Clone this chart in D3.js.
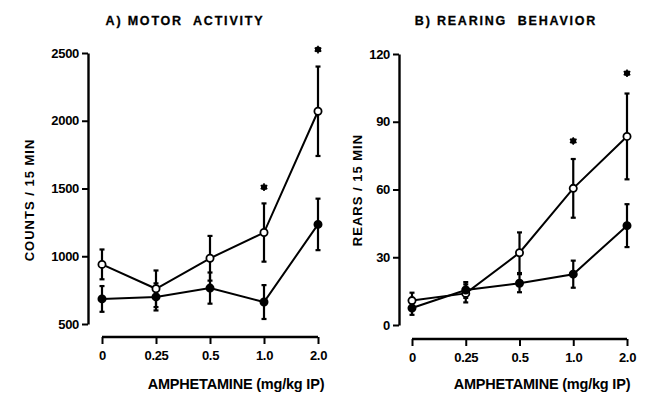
<!DOCTYPE html>
<html>
<head>
<meta charset="utf-8">
<script src="https://cdn.jsdelivr.net/npm/d3@7"></script>
<style>
  body { margin: 0; background: #fff; }
  svg text { font-family: "Liberation Sans", Arial, sans-serif; font-weight: bold; fill: #000; }
</style>
</head>
<body>
<svg id="chart" width="646" height="394"></svg>
<script>
// dose categories (x axis)
const doses = ["0", "0.25", "0.5", "1.0", "2.0"];

// A) motor activity, counts / 15 min
const motorOpen = [940, 760, 985, 1175, 2070];
const motorOpenErr = [110, 135, 165, 215, 330];
const motorFilled = [685, 700, 765, 662, 1235];
const motorFilledErr = [95, 100, 115, 125, 190];
const motorStars = [{dose: "1.0", v: 1510}, {dose: "2.0", v: 2525}];
const motorTicks = [500, 1000, 1500, 2000, 2500];

// B) rearing behavior, rears / 15 min
const rearOpen = [10.8, 14, 32, 60.5, 83.5];
const rearOpenErr = [3.5, 4, 9, 13, 19];
const rearFilled = [7.5, 15.5, 18.5, 22.5, 44];
const rearFilledErr = [3, 3.5, 4, 6, 9.5];
const rearStars = [{dose: "1.0", v: 81.5}, {dose: "2.0", v: 111.5}];
const rearTicks = [0, 30, 60, 90, 120];

const svg = d3.select("#chart");

function drawPanel(opt) {
  const x = d3.scalePoint().domain(doses).range(opt.xRange);
  const y = d3.scaleLinear().domain(opt.yDomain).range(opt.yRange);
  const g = svg.append("g");

  // y axis
  const yAx = g.append("g")
    .attr("transform", "translate(" + opt.yAxisX + ",0)")
    .call(d3.axisLeft(y).tickValues(opt.ticks).tickFormat(d3.format("d"))
      .tickSize(6).tickSizeOuter(0).tickPadding(3));
  yAx.select(".domain").attr("stroke-width", 2.4);
  yAx.selectAll(".tick line").attr("stroke-width", 2);
  yAx.selectAll("text").attr("font-size", 13).attr("letter-spacing", -0.3);

  // x axis, detached below the plot
  const xAx = g.append("g")
    .attr("transform", "translate(0," + opt.xAxisY + ")")
    .call(d3.axisBottom(x).tickSize(7).tickSizeOuter(0).tickPadding(7));
  xAx.select(".domain").attr("stroke-width", 2.4).attr("d", "M" + opt.xRange[0] + ",0H" + opt.xRange[1]);
  xAx.selectAll(".tick line").attr("stroke-width", 2);
  xAx.selectAll("text").attr("font-size", 13).attr("letter-spacing", -0.3);

  const series = [
    {vals: opt.open, err: opt.openErr, fill: "#fff"},
    {vals: opt.filled, err: opt.filledErr, fill: "#000"}
  ];

  series.forEach(s => {
    const pts = doses.map((d, i) => ({d: d, v: s.vals[i], e: s.err[i]}));
    const eb = g.append("g").selectAll("g").data(pts).enter().append("g")
      .attr("stroke", "#000").attr("stroke-width", 2.2);
    eb.append("line")
      .attr("x1", p => x(p.d)).attr("x2", p => x(p.d))
      .attr("y1", p => y(p.v - p.e)).attr("y2", p => y(p.v + p.e));
    eb.append("line")
      .attr("x1", p => x(p.d) - 2.5).attr("x2", p => x(p.d) + 2.5)
      .attr("y1", p => y(p.v + p.e)).attr("y2", p => y(p.v + p.e));
    eb.append("line")
      .attr("x1", p => x(p.d) - 2.5).attr("x2", p => x(p.d) + 2.5)
      .attr("y1", p => y(p.v - p.e)).attr("y2", p => y(p.v - p.e));
    s.pts = pts;
  });

  series.forEach(s => {
    g.append("path").datum(s.pts)
      .attr("fill", "none").attr("stroke", "#000").attr("stroke-width", 2)
      .attr("d", d3.line().x(p => x(p.d)).y(p => y(p.v)));
  });

  series.forEach(s => {
    g.append("g").selectAll("circle").data(s.pts).enter().append("circle")
      .attr("cx", p => x(p.d)).attr("cy", p => y(p.v))
      .attr("r", 3.6)
      .attr("fill", s.fill).attr("stroke", "#000").attr("stroke-width", 1.8);
  });

  // significance marks: a filled blob with short spikes
  const st = g.append("g").selectAll("g").data(opt.stars).enter().append("g")
    .attr("transform", p => "translate(" + x(p.dose) + "," + y(p.v) + ")");
  st.append("circle").attr("r", 3).attr("fill", "#000");
  st.append("path")
    .attr("d", d3.symbol().type(d3.symbolAsterisk).size(40))
    .attr("fill", "none").attr("stroke", "#000").attr("stroke-width", 1.6);

  // titles
  g.append("text")
    .attr("x", opt.titleX).attr("y", 25)
    .attr("text-anchor", "middle").attr("font-size", 12.5)
    .attr("letter-spacing", 1.8).attr("xml:space", "preserve")
    .attr("stroke", "#000").attr("stroke-width", 0.3)
    .text(opt.title);

  g.append("text")
    .attr("transform", "translate(" + opt.yLabelX + "," + opt.yLabelY + ") rotate(-90)")
    .attr("text-anchor", "middle").attr("font-size", 13)
    .attr("letter-spacing", 1).attr("xml:space", "preserve")
    .text(opt.yLabel);

  g.append("text")
    .attr("x", opt.xLabelX).attr("y", 389)
    .attr("text-anchor", "middle").attr("font-size", 14.5)
    .attr("letter-spacing", -0.2)
    .text("AMPHETAMINE (mg/kg IP)");
}

drawPanel({
  xRange: [102, 318], yDomain: [500, 2500], yRange: [324, 53],
  yAxisX: 88, xAxisY: 337, ticks: motorTicks,
  open: motorOpen, openErr: motorOpenErr,
  filled: motorFilled, filledErr: motorFilledErr,
  stars: motorStars,
  title: "A) MOTOR  ACTIVITY", titleX: 185,
  yLabel: "COUNTS / 15 MIN", yLabelX: 34, yLabelY: 200,
  xLabelX: 236
});

drawPanel({
  xRange: [412, 627], yDomain: [0, 120], yRange: [325, 54],
  yAxisX: 399, xAxisY: 339, ticks: rearTicks,
  open: rearOpen, openErr: rearOpenErr,
  filled: rearFilled, filledErr: rearFilledErr,
  stars: rearStars,
  title: "B) REARING  BEHAVIOR", titleX: 506,
  yLabel: "REARS / 15 MIN", yLabelX: 362, yLabelY: 190,
  xLabelX: 542
});
</script>
</body>
</html>
